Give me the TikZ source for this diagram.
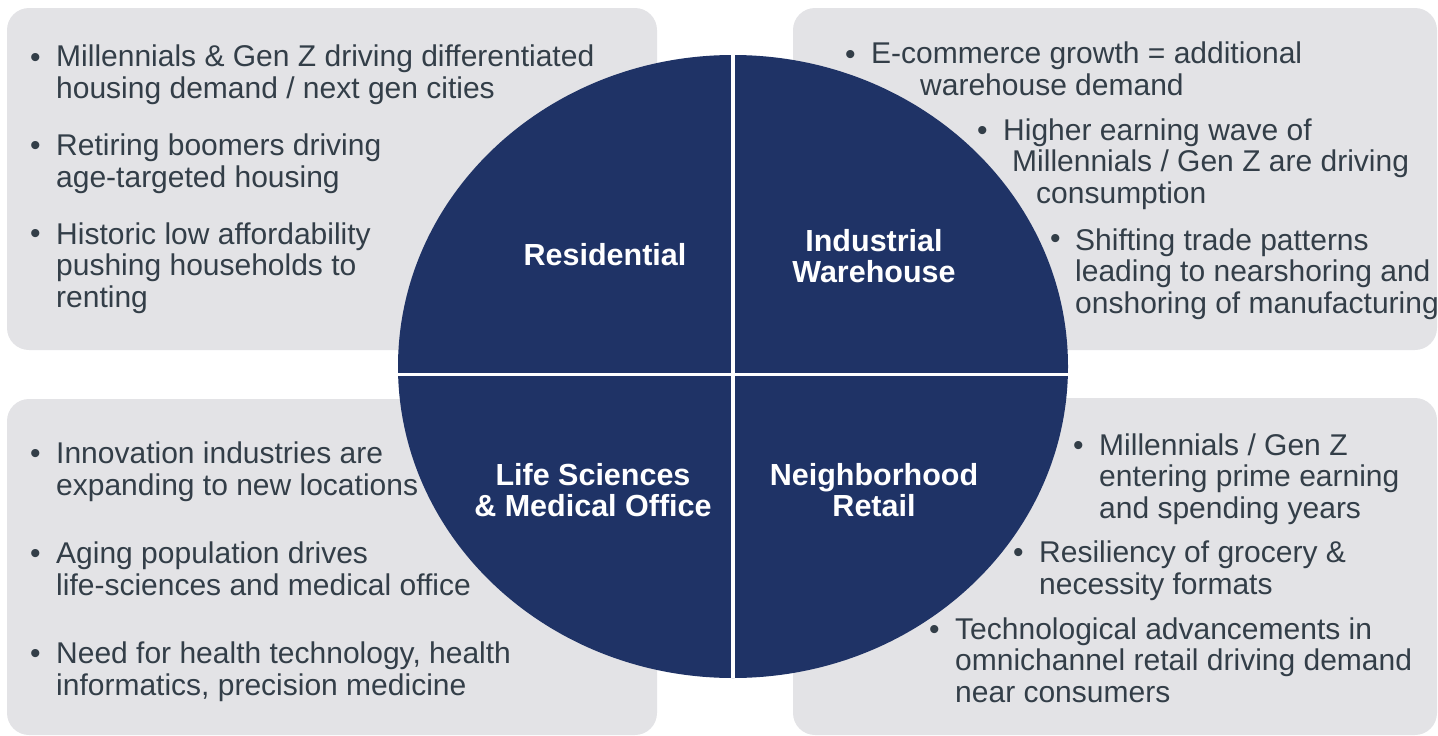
\documentclass[tikz,border=0pt]{standalone}
\usepackage{fontspec}
\setmainfont{Liberation Sans}
\definecolor{navy}{HTML}{1F3366}
\definecolor{panelgray}{HTML}{E3E3E6}
\definecolor{ink}{HTML}{333E48}
\tikzset{
  panel/.style={fill=panelgray, rounded corners=22pt},
  bul/.style={anchor=base west, inner sep=0pt, text=ink, font=\fontsize{30}{31.5}\selectfont},
  point/.style={anchor=base west, inner sep=0pt, text=ink, align=left, font=\fontsize{30}{31.5}\selectfont},
  sector/.style={inner sep=0pt, text=white, align=center, font=\bfseries\fontsize{30.5}{31.5}\selectfont},
}
\begin{document}
\begin{tikzpicture}[x=1pt, y=-1pt]
\useasboundingbox (0,0) rectangle (1438,736);
% grey panels
\fill[panel] (7,8) rectangle (657,350);
\fill[panel] (793,8) rectangle (1437,350);
\fill[panel] (7,399) rectangle (657,735);
\fill[panel] (793,398) rectangle (1437,735);

% circle and dividers
\fill[navy] (733,366.5) ellipse [x radius=335, y radius=311.5];
\begin{scope}
\clip (733,366.5) ellipse [x radius=335, y radius=311.5];
\draw[white, line width=4pt] (733,0) -- (733,736);
\draw[white, line width=3pt] (0,374) -- (1438,374);
\end{scope}

% sector titles
\node[sector] (res) at (605,255) {Residential};
\node[sector] (ind) at (874,256) {Industrial\\Warehouse};
\node[sector] (life) at (593,490) {Life Sciences\\\& Medical Office};
\node[sector] (ret) at (874,490) {Neighborhood\\Retail};

% residential (text nodes sit on their last baseline)
\node[bul] (resb1) at (30,67) {\textbullet};
\node[point] (res1) at (56,98) {Millennials \& Gen Z driving differentiated\\housing demand / next gen cities};
\node[bul] (resb2) at (30,155) {\textbullet};
\node[point] (res2) at (56,187) {Retiring boomers driving\\age-targeted housing};
\node[bul] (resb3) at (30,243) {\textbullet};
\node[point] (res3) at (56,307) {Historic low affordability\\pushing households to\\renting};

% industrial
\node[bul] (indb1) at (845,64) {\textbullet};
\node[point] (ind1) at (871,95) {E-commerce growth = additional\\\hspace*{49pt}warehouse demand};
\node[bul] (indb2) at (977,140) {\textbullet};
\node[point] (ind2) at (1003,203) {Higher earning wave of\\\hspace*{9pt}Millennials / Gen Z are driving\\\hspace*{33pt}consumption};
\node[bul] (indb3) at (1050,248) {\textbullet};
\node[point] (ind3) at (1075,313) {Shifting trade patterns\\leading to nearshoring and\\onshoring of manufacturing};

% life sciences
\node[bul] (lifeb1) at (30,463) {\textbullet};
\node[point] (life1) at (56,495) {Innovation industries are\\expanding to new locations};
\node[bul] (lifeb2) at (30,563) {\textbullet};
\node[point] (life2) at (56,595) {Aging population drives\\life-sciences and medical office};
\node[bul] (lifeb3) at (30,663) {\textbullet};
\node[point] (life3) at (56,695) {Need for health technology, health\\informatics, precision medicine};

% retail
\node[bul] (retb1) at (1073,455) {\textbullet};
\node[point] (ret1) at (1099,518) {Millennials / Gen Z\\entering prime earning\\and spending years};
\node[bul] (retb2) at (1013,562) {\textbullet};
\node[point] (ret2) at (1039,594) {Resiliency of grocery \&\\necessity formats};
\node[bul] (retb3) at (929,639) {\textbullet};
\node[point] (ret3) at (955,702) {Technological advancements in\\omnichannel retail driving demand\\near consumers};

\end{tikzpicture}
\end{document}
